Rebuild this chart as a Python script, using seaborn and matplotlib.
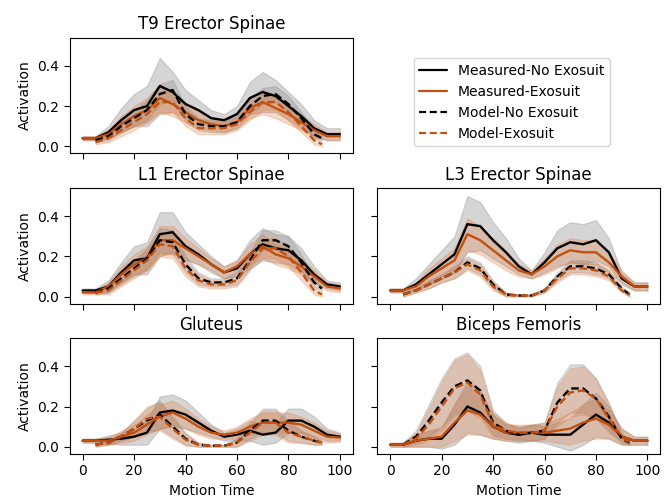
import numpy as np
import pandas as pd
import matplotlib
matplotlib.use("Agg")
import matplotlib.pyplot as plt
import seaborn as sns
from matplotlib.lines import Line2D

sns.set_theme(style="ticks")
plt.rcParams['font.family'] = ['DejaVu Sans']
plt.rcParams['text.color'] = 'black'
plt.rcParams['axes.labelcolor'] = 'black'
plt.rcParams['xtick.color'] = 'black'
plt.rcParams['ytick.color'] = 'black'
plt.rcParams['lines.dashed_pattern'] = [3.2, 1.6]

# ---------------- data ----------------
x_meas = [0, 5, 10, 15, 20, 25, 30, 35, 40, 45, 50, 55, 60, 65, 70, 75, 80, 85, 90, 95, 100]
x_model = [5, 10, 15, 20, 25, 30, 35, 40, 45, 50, 55, 60, 65, 70, 75, 80, 85, 90, 93]

titles = ["T9 Erector Spinae", "L1 Erector Spinae", "L3 Erector Spinae", "Gluteus", "Biceps Femoris"]
series_names = ["Measured-No Exosuit", "Measured-Exosuit", "Model-No Exosuit", "Model-Exosuit"]

# T9 Erector Spinae
t9_meas_no = [0.04, 0.04, 0.07, 0.13, 0.18, 0.20, 0.30, 0.27, 0.21, 0.18, 0.14, 0.13, 0.16, 0.24, 0.27, 0.25, 0.20, 0.15, 0.09, 0.06, 0.06]
t9_meas_no_sd = [0.01, 0.01, 0.03, 0.06, 0.08, 0.10, 0.14, 0.10, 0.07, 0.05, 0.04, 0.03, 0.04, 0.08, 0.10, 0.08, 0.07, 0.06, 0.04, 0.03, 0.03]
t9_meas_ex = [0.04, 0.04, 0.06, 0.11, 0.15, 0.18, 0.24, 0.21, 0.17, 0.13, 0.11, 0.10, 0.12, 0.19, 0.22, 0.19, 0.16, 0.12, 0.08, 0.05, 0.05]
t9_meas_ex_sd = [0.01, 0.01, 0.02, 0.04, 0.05, 0.06, 0.07, 0.06, 0.05, 0.04, 0.03, 0.03, 0.03, 0.05, 0.06, 0.05, 0.05, 0.04, 0.03, 0.02, 0.02]
t9_mod_no = [0.03, 0.05, 0.10, 0.14, 0.18, 0.26, 0.28, 0.16, 0.11, 0.10, 0.10, 0.12, 0.20, 0.25, 0.26, 0.21, 0.14, 0.06, 0.04]
t9_mod_no_sd = [0.01, 0.02, 0.03, 0.04, 0.05, 0.05, 0.05, 0.04, 0.03, 0.03, 0.03, 0.03, 0.04, 0.04, 0.04, 0.04, 0.03, 0.02, 0.01]
t9_mod_ex = [0.02, 0.04, 0.08, 0.12, 0.16, 0.22, 0.22, 0.14, 0.09, 0.09, 0.09, 0.11, 0.17, 0.22, 0.22, 0.17, 0.10, 0.03, 0.01]
t9_mod_ex_sd = [0.01, 0.02, 0.03, 0.04, 0.04, 0.05, 0.05, 0.04, 0.03, 0.03, 0.03, 0.03, 0.04, 0.04, 0.04, 0.04, 0.03, 0.02, 0.01]

# L1 Erector Spinae
l1_meas_no = [0.03, 0.03, 0.05, 0.12, 0.18, 0.19, 0.31, 0.32, 0.25, 0.21, 0.16, 0.12, 0.14, 0.21, 0.26, 0.24, 0.23, 0.18, 0.11, 0.06, 0.05]
l1_meas_no_sd = [0.01, 0.01, 0.03, 0.05, 0.07, 0.08, 0.11, 0.10, 0.07, 0.05, 0.04, 0.03, 0.04, 0.07, 0.08, 0.07, 0.07, 0.06, 0.04, 0.02, 0.02]
l1_meas_ex = [0.02, 0.02, 0.05, 0.11, 0.16, 0.19, 0.28, 0.28, 0.24, 0.20, 0.16, 0.12, 0.15, 0.21, 0.25, 0.21, 0.19, 0.15, 0.10, 0.05, 0.04]
l1_meas_ex_sd = [0.01, 0.01, 0.02, 0.04, 0.05, 0.06, 0.07, 0.07, 0.05, 0.04, 0.03, 0.03, 0.03, 0.05, 0.06, 0.05, 0.05, 0.04, 0.03, 0.02, 0.02]
l1_mod_no = [0.02, 0.04, 0.09, 0.14, 0.19, 0.28, 0.27, 0.16, 0.09, 0.07, 0.07, 0.09, 0.18, 0.28, 0.28, 0.25, 0.17, 0.07, 0.04]
l1_mod_no_sd = [0.01, 0.02, 0.03, 0.04, 0.05, 0.06, 0.06, 0.04, 0.03, 0.02, 0.02, 0.03, 0.04, 0.05, 0.05, 0.05, 0.04, 0.02, 0.01]
l1_mod_ex = [0.02, 0.03, 0.08, 0.13, 0.18, 0.26, 0.25, 0.14, 0.08, 0.06, 0.06, 0.08, 0.17, 0.24, 0.24, 0.20, 0.12, 0.03, 0.01]
l1_mod_ex_sd = [0.01, 0.02, 0.03, 0.04, 0.05, 0.06, 0.06, 0.04, 0.03, 0.02, 0.02, 0.03, 0.04, 0.05, 0.05, 0.05, 0.04, 0.02, 0.01]

# L3 Erector Spinae
l3_meas_no = [0.03, 0.03, 0.06, 0.11, 0.16, 0.21, 0.36, 0.35, 0.28, 0.22, 0.15, 0.11, 0.17, 0.24, 0.27, 0.26, 0.28, 0.22, 0.09, 0.05, 0.05]
l3_meas_no_sd = [0.01, 0.01, 0.03, 0.05, 0.07, 0.09, 0.14, 0.12, 0.09, 0.07, 0.04, 0.02, 0.05, 0.09, 0.10, 0.10, 0.10, 0.07, 0.03, 0.02, 0.02]
l3_meas_ex = [0.03, 0.03, 0.05, 0.10, 0.14, 0.18, 0.31, 0.28, 0.23, 0.18, 0.13, 0.11, 0.15, 0.20, 0.23, 0.22, 0.22, 0.17, 0.10, 0.05, 0.05]
l3_meas_ex_sd = [0.01, 0.01, 0.02, 0.04, 0.05, 0.06, 0.08, 0.07, 0.06, 0.05, 0.03, 0.02, 0.04, 0.06, 0.06, 0.06, 0.06, 0.05, 0.03, 0.02, 0.02]
l3_mod_no = [0.01, 0.03, 0.06, 0.09, 0.12, 0.17, 0.14, 0.06, 0.01, 0.005, 0.005, 0.03, 0.10, 0.15, 0.15, 0.14, 0.11, 0.04, 0.01]
l3_mod_no_sd = [0.01, 0.01, 0.02, 0.02, 0.03, 0.03, 0.03, 0.02, 0.01, 0.005, 0.005, 0.01, 0.02, 0.03, 0.03, 0.03, 0.02, 0.01, 0.01]
l3_mod_ex = [0.01, 0.03, 0.06, 0.09, 0.12, 0.16, 0.13, 0.05, 0.01, 0.005, 0.005, 0.03, 0.09, 0.14, 0.14, 0.13, 0.10, 0.03, 0.01]
l3_mod_ex_sd = [0.01, 0.01, 0.02, 0.02, 0.03, 0.03, 0.03, 0.02, 0.01, 0.005, 0.005, 0.01, 0.02, 0.03, 0.03, 0.03, 0.02, 0.01, 0.01]

# Gluteus
gl_meas_no = [0.03, 0.03, 0.035, 0.04, 0.05, 0.07, 0.17, 0.18, 0.16, 0.12, 0.08, 0.05, 0.06, 0.08, 0.06, 0.07, 0.13, 0.13, 0.10, 0.06, 0.05]
gl_meas_no_sd = [0.01, 0.01, 0.02, 0.03, 0.04, 0.06, 0.08, 0.08, 0.07, 0.05, 0.03, 0.02, 0.03, 0.05, 0.05, 0.05, 0.06, 0.06, 0.05, 0.03, 0.02]
gl_meas_ex = [0.03, 0.03, 0.03, 0.05, 0.07, 0.11, 0.15, 0.17, 0.14, 0.10, 0.07, 0.06, 0.07, 0.10, 0.12, 0.12, 0.12, 0.11, 0.08, 0.05, 0.045]
gl_meas_ex_sd = [0.01, 0.01, 0.02, 0.03, 0.04, 0.05, 0.06, 0.06, 0.05, 0.04, 0.03, 0.02, 0.03, 0.04, 0.05, 0.05, 0.05, 0.04, 0.04, 0.03, 0.02]
gl_mod_no = [0.01, 0.02, 0.05, 0.09, 0.13, 0.16, 0.10, 0.04, 0.01, 0.005, 0.005, 0.02, 0.08, 0.13, 0.13, 0.08, 0.05, 0.03, 0.02]
gl_mod_no_sd = [0.01, 0.01, 0.02, 0.04, 0.06, 0.07, 0.05, 0.03, 0.01, 0.005, 0.005, 0.02, 0.04, 0.06, 0.06, 0.05, 0.03, 0.02, 0.01]
gl_mod_ex = [0.01, 0.02, 0.05, 0.09, 0.14, 0.15, 0.09, 0.035, 0.01, 0.005, 0.005, 0.02, 0.07, 0.12, 0.12, 0.07, 0.05, 0.03, 0.02]
gl_mod_ex_sd = [0.01, 0.01, 0.02, 0.04, 0.06, 0.07, 0.05, 0.03, 0.01, 0.005, 0.005, 0.02, 0.04, 0.06, 0.06, 0.05, 0.03, 0.02, 0.01]

# Biceps Femoris
bf_meas_no = [0.01, 0.01, 0.03, 0.04, 0.04, 0.11, 0.20, 0.17, 0.10, 0.07, 0.06, 0.07, 0.06, 0.06, 0.06, 0.11, 0.16, 0.12, 0.05, 0.03, 0.03]
bf_meas_no_sd = [0.01, 0.01, 0.03, 0.04, 0.05, 0.10, 0.13, 0.11, 0.06, 0.04, 0.04, 0.04, 0.04, 0.06, 0.08, 0.10, 0.11, 0.08, 0.04, 0.02, 0.02]
bf_meas_ex = [0.01, 0.01, 0.03, 0.04, 0.05, 0.12, 0.18, 0.16, 0.10, 0.07, 0.07, 0.07, 0.07, 0.08, 0.09, 0.12, 0.14, 0.11, 0.05, 0.03, 0.03]
bf_meas_ex_sd = [0.01, 0.01, 0.03, 0.04, 0.05, 0.09, 0.12, 0.10, 0.06, 0.04, 0.04, 0.04, 0.04, 0.06, 0.08, 0.09, 0.10, 0.07, 0.04, 0.02, 0.02]
bf_mod_no = [0.01, 0.05, 0.13, 0.22, 0.30, 0.33, 0.28, 0.12, 0.08, 0.06, 0.07, 0.08, 0.22, 0.29, 0.29, 0.24, 0.15, 0.04, 0.02]
bf_mod_no_sd = [0.01, 0.03, 0.08, 0.12, 0.14, 0.14, 0.12, 0.06, 0.04, 0.03, 0.04, 0.04, 0.10, 0.12, 0.12, 0.10, 0.07, 0.02, 0.01]
bf_mod_ex = [0.01, 0.04, 0.11, 0.20, 0.29, 0.32, 0.26, 0.11, 0.08, 0.07, 0.07, 0.08, 0.20, 0.27, 0.28, 0.24, 0.14, 0.05, 0.02]
bf_mod_ex_sd = [0.01, 0.03, 0.08, 0.12, 0.14, 0.14, 0.12, 0.06, 0.04, 0.03, 0.04, 0.04, 0.10, 0.12, 0.12, 0.10, 0.07, 0.02, 0.01]

panels = [
    (t9_meas_no, t9_meas_no_sd, t9_meas_ex, t9_meas_ex_sd, t9_mod_no, t9_mod_no_sd, t9_mod_ex, t9_mod_ex_sd),
    (l1_meas_no, l1_meas_no_sd, l1_meas_ex, l1_meas_ex_sd, l1_mod_no, l1_mod_no_sd, l1_mod_ex, l1_mod_ex_sd),
    (l3_meas_no, l3_meas_no_sd, l3_meas_ex, l3_meas_ex_sd, l3_mod_no, l3_mod_no_sd, l3_mod_ex, l3_mod_ex_sd),
    (gl_meas_no, gl_meas_no_sd, gl_meas_ex, gl_meas_ex_sd, gl_mod_no, gl_mod_no_sd, gl_mod_ex, gl_mod_ex_sd),
    (bf_meas_no, bf_meas_no_sd, bf_meas_ex, bf_meas_ex_sd, bf_mod_no, bf_mod_no_sd, bf_mod_ex, bf_mod_ex_sd),
]

# ---------------- styles ----------------
BLACK = "#000000"
ORANGE = "#c4500f"
BAND_BLACK = "#7f7f7f"
BAND_ORANGE = "#e08048"

fig, axes = plt.subplots(3, 2, figsize=(6.71, 4.97), dpi=100, sharex=True, sharey=True)
fig.subplots_adjust(left=0.104, right=0.984, top=0.924, bottom=0.087, wspace=0.087, hspace=0.30)

ax_positions = [axes[0, 0], axes[1, 0], axes[1, 1], axes[2, 0], axes[2, 1]]
axes[0, 1].set_visible(False)

for ax, title, data in zip(ax_positions, titles, panels):
    mno, mno_sd, mex, mex_sd, dno, dno_sd, dex, dex_sd = data
    specs = [
        (x_meas, mno, mno_sd, BLACK, BAND_BLACK, "-", 0.32),
        (x_meas, mex, mex_sd, ORANGE, BAND_ORANGE, "-", 0.30),
        (x_model, dno, dno_sd, BLACK, BAND_BLACK, "--", 0.28),
        (x_model, dex, dex_sd, ORANGE, BAND_ORANGE, "--", 0.28),
    ]
    for xs, ys, sd, lc, bc, ls, al in specs:
        ys = np.asarray(ys)
        sd = np.asarray(sd)
        ax.fill_between(xs, ys - sd, ys + sd, color=bc, alpha=al, linewidth=0.8)
    for xs, ys, sd, lc, bc, ls, al in specs:
        sns.lineplot(x=xs, y=ys, ax=ax, color=lc, linestyle=ls, linewidth=1.7)
    ax.set_title(title, fontsize=12, color="black")
    ax.set_xlim(-5, 105)
    ax.set_ylim(-0.035, 0.54)
    ax.set_xticks([0, 20, 40, 60, 80, 100])
    ax.set_yticks([0.0, 0.2, 0.4])
    ax.tick_params(labelsize=10, length=4, width=0.8, color="black", labelcolor="black")
    for s in ax.spines.values():
        s.set_linewidth(0.8)
        s.set_color("black")
    ax.set_ylabel("")
    ax.set_xlabel("")

for ax in [axes[0, 0], axes[1, 0], axes[2, 0]]:
    ax.set_ylabel("Activation", fontsize=10)
for ax in [axes[2, 0], axes[2, 1]]:
    ax.set_xlabel("Motion Time", fontsize=10)
axes[2, 0].tick_params(labelbottom=True)
axes[1, 1].tick_params(labelleft=False)

handles = [
    Line2D([0], [0], color=BLACK, linestyle="-", linewidth=1.6),
    Line2D([0], [0], color=ORANGE, linestyle="-", linewidth=1.6),
    Line2D([0], [0], color=BLACK, linestyle="--", linewidth=1.6),
    Line2D([0], [0], color=ORANGE, linestyle="--", linewidth=1.6),
]
fig.legend(handles, series_names, loc="upper left", bbox_to_anchor=(0.606, 0.897),
           fontsize=10, frameon=True, edgecolor="#cccccc", fancybox=True)

fig.savefig("out.png", dpi=100)
